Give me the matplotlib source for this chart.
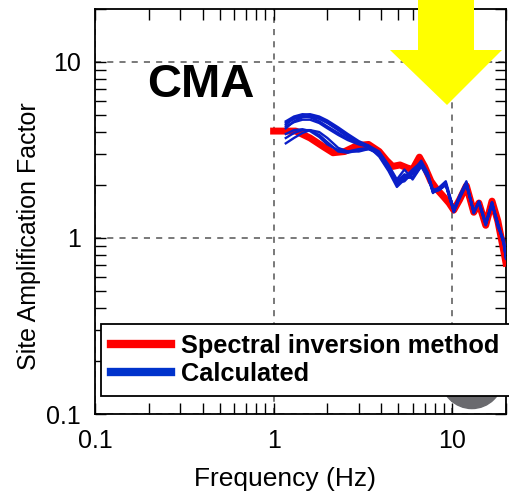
import numpy as np
import matplotlib
matplotlib.use("Agg")
import matplotlib.pyplot as plt
from matplotlib.lines import Line2D
from matplotlib.patches import Polygon, Ellipse
from matplotlib.ticker import LogLocator, NullFormatter, FixedLocator, FixedFormatter

plt.rcParams['font.family'] = ['Liberation Sans', 'DejaVu Sans']

# spectral inversion result (red)
red_freq = [1.0, 1.33, 1.6, 1.9, 2.15, 2.5, 2.93, 3.4, 3.9, 4.3, 4.64, 5.1, 5.6, 6.0,
            6.55, 7.0, 7.6, 8.1, 8.8, 9.6, 10.2, 11.0, 12.0, 13.2, 14.1, 15.4, 16.7,
            18.0, 19.4, 20.0]
red_amp = [4.05, 4.05, 3.7, 3.3, 3.05, 3.1, 3.35, 3.4, 3.1, 2.75, 2.55, 2.6, 2.5, 2.45,
           2.88, 2.55, 2.1, 1.92, 1.75, 1.58, 1.44, 1.65, 1.98, 1.4, 1.58, 1.18, 1.62,
           1.25, 0.85, 0.72]

# calculated curves (blue), common frequency grid
blue_freq = [1.17, 1.3, 1.45, 1.6, 1.8, 2.0, 2.3, 2.6, 3.0, 3.4, 3.9, 4.4, 4.9, 5.4, 6.0,
             6.7, 7.3, 7.8, 8.5, 9.2, 10.2, 11.0, 12.0, 13.2, 14.1, 15.4, 16.7, 18.0,
             19.4, 20.0]
blue_1 = [4.6, 4.9, 5.05, 5.0, 4.8, 4.55, 4.15, 3.8, 3.5, 3.3, 2.95, 2.45, 2.0, 2.2, 2.45,
          2.7, 2.3, 1.85, 1.9, 2.05, 1.42, 1.7, 2.05, 1.4, 1.6, 1.2, 1.58, 1.2, 0.95, 0.78]
blue_2 = [4.4, 4.8, 5.0, 5.05, 4.9, 4.65, 4.25, 3.9, 3.55, 3.35, 3.0, 2.5, 2.05, 2.1, 2.35,
          2.75, 2.35, 1.8, 1.95, 2.1, 1.45, 1.75, 2.1, 1.38, 1.62, 1.22, 1.6, 1.15, 0.98, 0.8]
blue_3 = [4.2, 4.6, 4.85, 4.9, 4.75, 4.5, 4.1, 3.75, 3.45, 3.3, 3.05, 2.55, 2.1, 2.3, 2.2,
          2.6, 2.25, 1.82, 1.88, 2.0, 1.4, 1.68, 2.0, 1.42, 1.58, 1.18, 1.55, 1.22, 0.92, 0.76]
blue_4 = [4.5, 4.75, 4.9, 4.85, 4.6, 4.3, 3.95, 3.65, 3.45, 3.35, 3.1, 2.6, 2.15, 2.45, 2.15,
          2.55, 2.3, 1.88, 1.92, 2.02, 1.44, 1.72, 2.02, 1.39, 1.61, 1.21, 1.57, 1.18, 0.96, 0.79]
blue_5 = [4.3, 4.55, 4.7, 4.7, 4.5, 4.2, 3.85, 3.6, 3.4, 3.3, 2.9, 2.4, 1.95, 2.15, 2.4,
          2.65, 2.28, 1.84, 1.9, 2.04, 1.43, 1.7, 2.03, 1.41, 1.59, 1.19, 1.59, 1.2, 0.94, 0.77]
blue_6 = [3.9, 4.1, 4.15, 4.05, 3.75, 3.4, 3.15, 3.1, 3.2, 3.25, 3.0, 2.5, 2.0, 2.25, 2.35,
          2.6, 2.25, 1.85, 1.9, 2.0, 1.42, 1.7, 2.04, 1.4, 1.6, 1.2, 1.58, 1.2, 0.95, 0.78]
blue_7 = [3.7, 3.95, 4.1, 4.1, 3.85, 3.5, 3.1, 3.05, 3.15, 3.2, 3.05, 2.55, 2.1, 2.2, 2.2,
          2.55, 2.2, 1.82, 1.88, 2.02, 1.41, 1.69, 2.02, 1.4, 1.59, 1.19, 1.57, 1.19, 0.95, 0.77]
blue_8 = [3.45, 3.7, 3.95, 4.1, 4.0, 3.7, 3.25, 3.1, 3.1, 3.2, 3.0, 2.5, 2.05, 2.15, 2.3,
          2.65, 2.3, 1.86, 1.9, 2.03, 1.43, 1.71, 2.05, 1.39, 1.61, 1.21, 1.59, 1.21, 0.96, 0.78]
blue_curves = [blue_1, blue_2, blue_3, blue_4, blue_5, blue_6, blue_7, blue_8]

major_ticks = [0.1, 1, 10]
major_labels = ["0.1", "1", "10"]

W, H = 510, 495
fig = plt.figure(figsize=(W / 100, H / 100), dpi=100)
ax = fig.add_axes([95 / W, 1 - 414 / H, 411 / W, 405 / H])

red = "#ff0000"
blue = "#0a1ec8"

ax.plot(red_freq, red_amp, color=red, lw=5, zorder=3, solid_joinstyle="round")
for c in blue_curves:
    ax.plot(blue_freq, c, color=blue, lw=1.7, zorder=4)

ax.set_xscale("log")
ax.set_yscale("log")
ax.set_xlim(0.1, 20)
ax.set_ylim(0.1, 20)

for axis in (ax.xaxis, ax.yaxis):
    axis.set_major_locator(FixedLocator(major_ticks))
    axis.set_major_formatter(FixedFormatter(major_labels))
    axis.set_minor_locator(LogLocator(base=10, subs=np.arange(2, 10)))
    axis.set_minor_formatter(NullFormatter())

ax.tick_params(which="both", direction="in", top=True, right=True, width=1.0,
               labelsize=18, colors="black")
ax.tick_params(which="major", length=8)
ax.tick_params(which="minor", length=8)
ax.tick_params(axis="x", which="major", pad=11)
ax.tick_params(axis="y", which="major", pad=10)
for s in ax.spines.values():
    s.set_linewidth(1.3)

ax.grid(True, which="major", ls=(0, (4, 4)), color="#555555", lw=1.1)

ax.set_xlabel("Frequency (Hz)", fontsize=19)
ax.set_ylabel("Site Amplification Factor", fontsize=18)
ax.xaxis.set_label_coords(0.462, -0.13)
ax.yaxis.set_label_coords(-0.132, 0.44)

ax.text(0.128, 0.783, "CMA", transform=ax.transAxes, fontsize=34,
        fontweight="bold", ha="left", va="baseline", zorder=6)

# grey disc near bottom right (mostly behind legend)
ax.add_patch(Ellipse((0.917, 0.09), 62 / 411, 62 / 405, transform=ax.transAxes,
                     color="#6a6a6e", zorder=5))

handles = [Line2D([], [], color=red, lw=6), Line2D([], [], color="#0033cc", lw=6)]
leg = ax.legend(handles, ["Spectral inversion method", "Calculated"],
                loc="upper left", bbox_to_anchor=(0.015, 0.222), borderaxespad=0,
                prop={"weight": "bold", "size": 18.3}, handlelength=2.36,
                handletextpad=0.4, labelspacing=0.15, borderpad=0.4,
                fancybox=False, framealpha=1, edgecolor="black")
leg.get_frame().set_linewidth(1.3)
leg.set_zorder(8)

# yellow arrow at the top
arrow_px = [(418, 0), (474, 0), (474, 50), (502, 50), (447, 105), (390, 50), (418, 50)]
fig.patches.append(Polygon([(x / W, 1 - y / H) for x, y in arrow_px], closed=True,
                           transform=fig.transFigure, facecolor="#ffff00",
                           edgecolor="none", zorder=10))

fig.savefig("out.png", dpi=100)
